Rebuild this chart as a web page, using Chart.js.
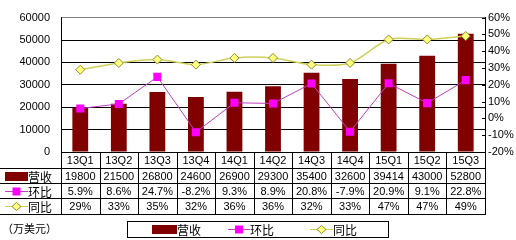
<!DOCTYPE html>
<html><head><meta charset="utf-8">
<script src="https://cdn.jsdelivr.net/npm/chart.js@4/dist/chart.umd.min.js"></script>
<style>html,body{margin:0;padding:0;background:#fff}canvas{display:block}</style>
</head><body>
<canvas id="c" width="516" height="240"></canvas>
<script>
const categories = ['13Q1','13Q2','13Q3','13Q4','14Q1','14Q2','14Q3','14Q4','15Q1','15Q2','15Q3'];
const revenue = [19800,21500,26800,24600,26900,29300,35400,32600,39414,43000,52800];
const qoq = [5.9,8.6,24.7,-8.2,9.3,8.9,20.8,-7.9,20.9,9.1,22.8];
const yoy = [29,33,35,32,36,36,32,33,47,47,49];
const seriesNames = ['营收','环比','同比'];
const unitLabel = '（万美元）';

const BAR = '#800000', MAG_LINE = '#C040C0', MAG_PT = '#FF00FF', YEL_LINE = '#CFCF5A', YEL_PT = '#FFFF80', YEL_BD = '#8C8C30';
const NUMF = '11px "Liberation Sans", Arial, sans-serif';
const CJK = '12px "Noto Sans CJK SC", sans-serif';

function drawSym(ctx, kind, x0, x1, y) {
  ctx.save();
  if (kind === 0) {
    ctx.fillStyle = BAR; ctx.fillRect(x0, y - 4, x1 - x0, 9);
  } else if (kind === 1) {
    ctx.strokeStyle = MAG_LINE; ctx.lineWidth = 1;
    ctx.beginPath(); ctx.moveTo(x0, y + 0.5); ctx.lineTo(x1, y + 0.5); ctx.stroke();
    const cx = (x0 + x1) / 2;
    ctx.fillStyle = MAG_PT; ctx.fillRect(cx - 4, y - 3.5, 8, 8);
  } else {
    ctx.strokeStyle = YEL_LINE; ctx.lineWidth = 1;
    ctx.beginPath(); ctx.moveTo(x0, y + 0.5); ctx.lineTo(x1, y + 0.5); ctx.stroke();
    const cx = (x0 + x1) / 2;
    ctx.fillStyle = YEL_PT; ctx.strokeStyle = YEL_BD;
    ctx.beginPath(); ctx.moveTo(cx, y - 3.5); ctx.lineTo(cx + 4.5, y + 0.5); ctx.lineTo(cx, y + 4.5); ctx.lineTo(cx - 4.5, y + 0.5); ctx.closePath();
    ctx.fill(); ctx.stroke();
  }
  ctx.restore();
}

const tablePlugin = {
  id: 'tbl',
  afterDraw(chart) {
    const ctx = chart.ctx;
    const xs = chart.scales.x, y2 = chart.scales.y2;
    const left = Math.round(xs.left), right = Math.round(xs.right);
    const top = Math.round(chart.chartArea.bottom);
    const rows = [top, top + 16, top + 31, top + 46, top + 62];
    const n = categories.length;
    const cw = (right - left) / n;
    ctx.save();
    // right axis inner tick marks
    ctx.strokeStyle = '#000'; ctx.lineWidth = 1;
    y2.ticks.forEach((t, i) => {
      const py = Math.round(y2.getPixelForTick(i)) + 0.5;
      ctx.beginPath(); ctx.moveTo(right - 3, py); ctx.lineTo(right + 1, py); ctx.stroke();
    });
    // table lines
    ctx.beginPath();
    ctx.moveTo(left, rows[0] + 0.5); ctx.lineTo(right + 1, rows[0] + 0.5);
    for (let r = 1; r < rows.length; r++) { ctx.moveTo(0, rows[r] + 0.5); ctx.lineTo(right + 1, rows[r] + 0.5); }
    for (let i = 0; i <= n; i++) {
      const x = Math.round(left + i * cw) + 0.5;
      ctx.moveTo(x, rows[0]); ctx.lineTo(x, rows[4] + 1);
    }
    ctx.stroke();
    // cell text
    ctx.fillStyle = '#000'; ctx.textAlign = 'center'; ctx.textBaseline = 'middle';
    ctx.font = NUMF;
    const cyc = (rows[0] + rows[1]) / 2 + 1;
    for (let i = 0; i < n; i++) ctx.fillText(categories[i], xs.getPixelForValue(i), cyc);
    const vals = [revenue.map(v => String(v)), qoq.map(v => v.toFixed(1) + '%'), yoy.map(v => v + '%')];
    for (let r = 0; r < 3; r++) {
      const cy = (rows[r + 1] + rows[r + 2]) / 2 + 1;
      for (let i = 0; i < n; i++) ctx.fillText(vals[r][i], xs.getPixelForValue(i), cy);
    }
    // header column
    for (let r = 0; r < 3; r++) {
      const cy = Math.round((rows[r + 1] + rows[r + 2]) / 2);
      drawSym(ctx, r, 5, 28, cy);
      ctx.fillStyle = '#000'; ctx.textAlign = 'left'; ctx.font = CJK;
      ctx.fillText(seriesNames[r], 28, cy + 1);
    }
    // unit label
    ctx.font = '11px "Noto Sans CJK SC", sans-serif'; ctx.textAlign = 'left';
    ctx.fillText(unitLabel, 2, 229);
    // legend box
    ctx.strokeStyle = '#000';
    ctx.strokeRect(127.5, 221.5, 261, 16);
    const ly = 229;
    const lx = [[152, 177], [228, 250], [310, 333]];
    for (let k = 0; k < 3; k++) {
      drawSym(ctx, k, lx[k][0], lx[k][1], ly);
      ctx.fillStyle = '#000'; ctx.font = CJK; ctx.textAlign = 'left';
      ctx.fillText(seriesNames[k], lx[k][1], ly + 1);
    }
    ctx.restore();
  }
};

new Chart(document.getElementById('c'), {
  data: {
    labels: categories,
    datasets: [
      { type: 'line', label: seriesNames[2], data: yoy, yAxisID: 'y2', order: 1,
        borderColor: YEL_LINE, borderWidth: 1.5, tension: 0.3,
        pointStyle: 'rectRot', pointRadius: 4.5, pointBackgroundColor: YEL_PT, pointBorderColor: YEL_BD, pointBorderWidth: 1 },
      { type: 'line', label: seriesNames[1], data: qoq, yAxisID: 'y2', order: 2,
        borderColor: MAG_LINE, borderWidth: 1, tension: 0,
        pointStyle: 'rect', pointRadius: 5.7, pointBackgroundColor: MAG_PT, pointBorderColor: MAG_PT, pointBorderWidth: 0 },
      { type: 'bar', label: seriesNames[0], data: revenue, yAxisID: 'y', order: 10,
        backgroundColor: BAR, borderWidth: 0, barPercentage: 0.41, categoryPercentage: 1 }
    ]
  },
  options: {
    responsive: false, animation: false,
    layout: { padding: { top: 8, left: 0, right: 0, bottom: 0 } },
    plugins: { legend: { display: false }, tooltip: { enabled: false } },
    scales: {
      x: {
        offset: true,
        grid: { display: false },
        border: { display: false },
        ticks: { display: false },
        afterFit(s) { s.height = 88; }
      },
      y: {
        position: 'left', min: 0, max: 60000,
        ticks: { stepSize: 10000, color: '#000', padding: 11, callback: v => String(v), font: { family: '"Liberation Sans", Arial, sans-serif', size: 11 } },
        grid: { drawTicks: false, color: c => c.tick.value === 60000 ? '#808080' : '#000' },
        border: { display: true, color: '#000' },
        afterFit(s) { s.width = 61; }
      },
      y2: {
        position: 'right', min: -20, max: 60,
        ticks: { stepSize: 10, color: '#000', padding: 3, callback: v => v + '%', font: { family: '"Liberation Sans", Arial, sans-serif', size: 11 } },
        grid: { drawOnChartArea: false, drawTicks: false },
        border: { display: true, color: '#000' },
        afterFit(s) { s.width = 31; }
      }
    }
  },
  plugins: [tablePlugin]
});
</script>
</body></html>
